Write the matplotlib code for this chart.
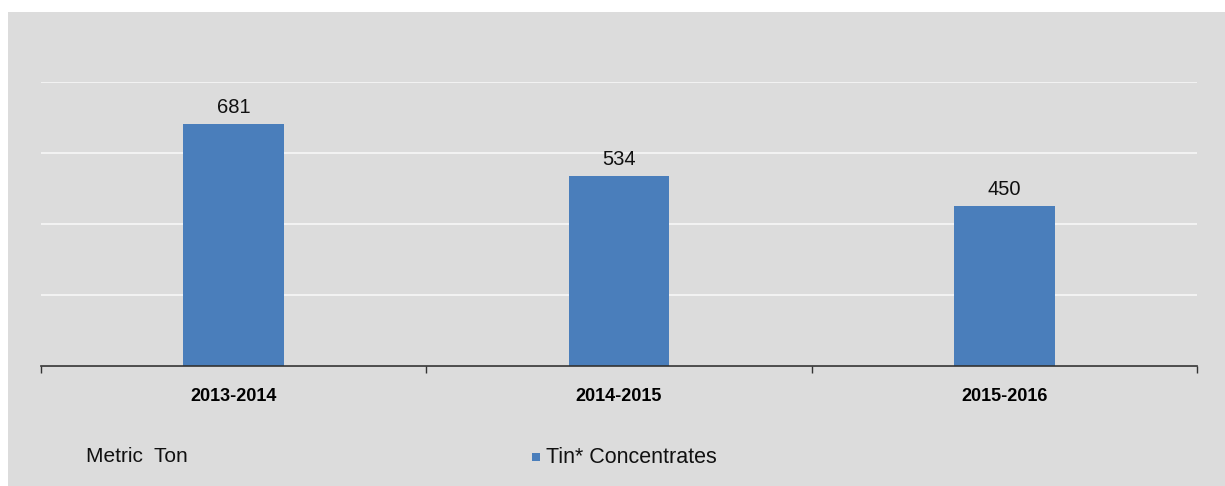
import matplotlib
matplotlib.use("Agg")
import matplotlib.pyplot as plt
from matplotlib.patches import Rectangle

categories = ["2013-2014", "2014-2015", "2015-2016"]
values = [681, 534, 450]
series_name = "Tin* Concentrates"
unit_label = "Metric  Ton"
yticks = [0, 200, 400, 600, 800]

W, H = 1225, 486
plt.rcParams['font.family'] = ['Liberation Sans', 'DejaVu Sans']

fig = plt.figure(figsize=(W / 100, H / 100), dpi=100)
fig.patch.set_facecolor("white")
# gray panel background
bg = Rectangle((8 / W, 0), 1 - 8 / W, 1 - 12 / H,
               transform=fig.transFigure, facecolor="#dcdcdc",
               edgecolor="none", zorder=-5)
fig.add_artist(bg)

ax = fig.add_axes([41 / W, 120 / H, (1197 - 41) / W, (366 - 82) / H])
ax.set_zorder(1)
ax.set_facecolor("none")
bar_color = "#4a7ebb"
x = list(range(len(categories)))
bars = ax.bar(x, values, width=0.262, color=bar_color, zorder=3)
ax.set_xlim(-0.5, len(categories) - 0.5)
ax.set_ylim(0, 800)
ax.set_yticks(yticks)
ax.yaxis.grid(True, color="#f2f2f2", linewidth=1.5, zorder=1)
ax.tick_params(axis="y", left=False, labelleft=False)
for s in ["top", "right", "left"]:
    ax.spines[s].set_visible(False)
ax.spines["bottom"].set_color("#333333")
ax.spines["bottom"].set_linewidth(1.2)
ax.spines["bottom"].set_zorder(4)
ax.set_xticks([i - 0.5 for i in range(len(categories) + 1)])
ax.set_xticklabels([])
ax.tick_params(axis="x", length=5, color="#333333", width=1)
ax.set_xticks(x, minor=True)
ax.set_xticklabels(categories, minor=True, fontweight="bold", fontsize=13)
ax.tick_params(axis="x", which="minor", length=0, pad=15.5)

for b, v in zip(bars, values):
    ax.annotate(str(v), (b.get_x() + b.get_width() / 2, v),
                xytext=(0, 5), textcoords="offset points",
                ha="center", va="bottom", fontsize=14.5, color="#111111")

fig.text(86 / W, 1 - 456 / H, unit_label, fontsize=15, va="center", ha="left",
         color="#111111", zorder=5)
fig.add_artist(Rectangle((532 / W, 1 - 461 / H), 8 / W, 8 / H,
                         transform=fig.transFigure, facecolor=bar_color,
                         edgecolor="none", zorder=5))
fig.text(546 / W, 1 - 457 / H, series_name, fontsize=15.5, va="center", ha="left",
         color="#111111", zorder=5)

fig.savefig("out.png", dpi=100)
